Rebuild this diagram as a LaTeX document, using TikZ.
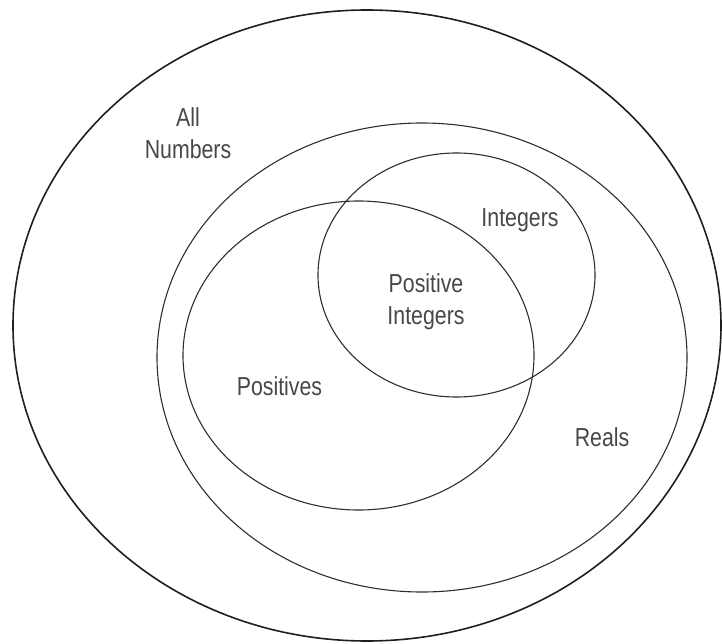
\documentclass[tikz,border=0pt]{standalone}
\usepackage{fontspec}
\newfontfamily\lblfont[FakeStretch=0.82]{Liberation Sans}
\usetikzlibrary{shapes.geometric}
\tikzset{
  setline/.style={draw=black!82, line width=1.1pt, ellipse, inner sep=0pt, outer sep=0pt},
  outerline/.style={draw=black!88, line width=1.6pt, ellipse, inner sep=0pt, outer sep=0pt},
  lbl/.style={text=black!72, font=\lblfont\fontsize{26}{32}\selectfont, align=center, inner sep=0pt}
}
\begin{document}
\begin{tikzpicture}[x=1pt,y=-1pt]
\useasboundingbox (0,0) rectangle (722,644);
\node[outerline, minimum width=708pt, minimum height=631pt] (allnum) at (367,325.5) {};
\node[setline, minimum width=530pt, minimum height=469pt] (reals) at (422,357.5) {};
\node[setline, minimum width=351pt, minimum height=309pt] (positives) at (358.5,355.5) {};
\node[setline, minimum width=277pt, minimum height=244pt] (integers) at (456.5,275) {};
\node[lbl] (tall) at (188,133) {All\\Numbers};
\node[lbl, anchor=base] (tint) at (520,227) {Integers};
\node[lbl] (tposint) at (426,302) {Positive\\Integers};
\node[lbl, anchor=base] (tpos) at (279.5,395) {Positives};
\node[lbl, anchor=base] (treals) at (602,446) {Reals};
\end{tikzpicture}
\end{document}
